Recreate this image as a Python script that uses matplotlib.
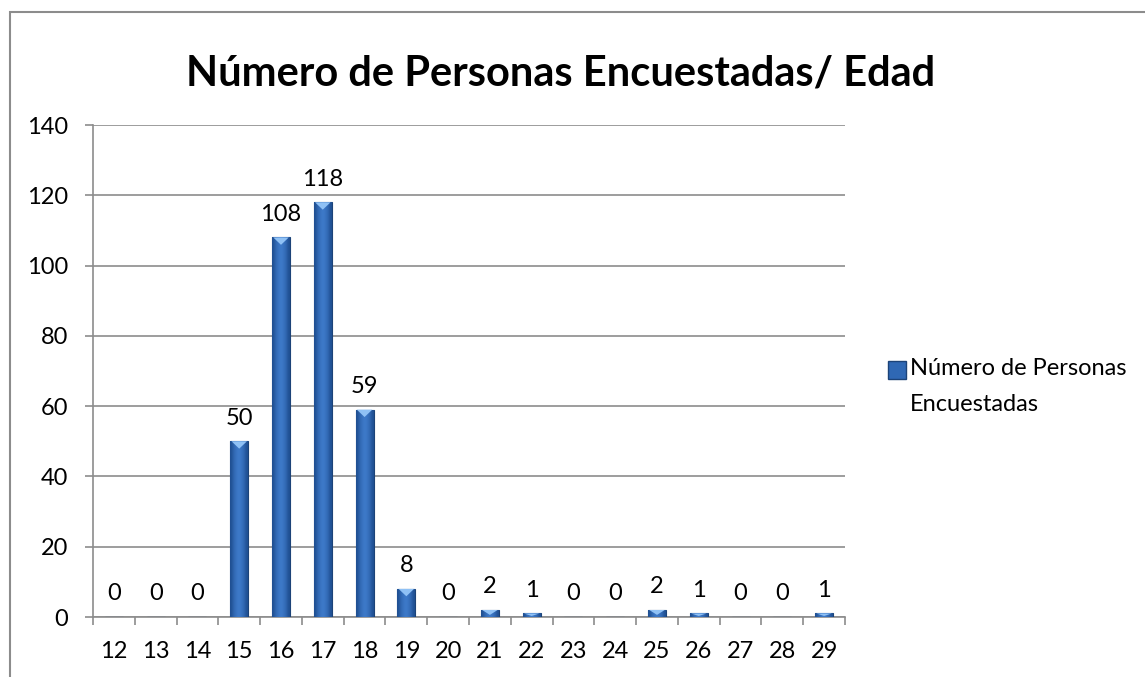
import matplotlib
matplotlib.use("Agg")
import matplotlib.pyplot as plt
import numpy as np
from matplotlib.patches import Rectangle
from matplotlib.lines import Line2D

plt.rcParams['font.family'] = ['Lato', 'DejaVu Sans']

categories = ['12', '13', '14', '15', '16', '17', '18', '19', '20', '21', '22',
              '23', '24', '25', '26', '27', '28', '29']
values = [0, 0, 0, 50, 108, 118, 59, 8, 0, 2, 1, 0, 0, 2, 1, 0, 0, 1]
y_ticks = [0, 20, 40, 60, 80, 100, 120, 140]
title = 'Número de Personas Encuestadas/ Edad'
series_name = 'Número de Personas\nEncuestadas'

fig = plt.figure(figsize=(11.45, 6.77), dpi=100)
W, H = 1145, 677
ax = fig.add_axes([93 / W, 1 - 617 / H, (845 - 93) / W, (617 - 125) / H])

# outer chart border
fig.patches.append(Rectangle((10 / W, -0.1), 1.2, 1 - 12 / H + 0.1, transform=fig.transFigure,
                             fill=False, edgecolor='#8c8c8c', linewidth=1.5))

x = np.arange(len(categories))
bars = ax.bar(x, values, width=0.43, color='#2f68b4', edgecolor='#1c4378', linewidth=0.8, zorder=3)

# gradient shading clipped to each bar
grad = np.array([[0.0, 0.55, 0.8, 1.0, 0.8, 0.55, 0.0]])
cmap = matplotlib.colors.LinearSegmentedColormap.from_list('g', ['#1f4f92', '#3f7ccc'])
for b in bars:
    if b.get_height() <= 0:
        continue
    x0, w, h = b.get_x(), b.get_width(), b.get_height()
    im = ax.imshow(grad, extent=[x0, x0 + w, 0, h], aspect='auto', cmap=cmap,
                   zorder=3.5, interpolation='bicubic')
    im.set_clip_path(b)
    tri_h = min(h, 3.0)
    ax.fill([x0 + 0.03, x0 + w - 0.03, x0 + w / 2], [h, h, h - tri_h * 0.7],
            color='#8fc1f5', zorder=4, linewidth=0)

for xi, v in zip(x, values):
    ax.annotate(str(v), (xi, v), xytext=(0, 9), textcoords='offset points', ha='center', va='bottom',
                fontsize=17, color='black')

ax.set_xlim(-0.5, len(categories) - 0.5)
ax.set_ylim(0, 140)
ax.set_yticks(y_ticks)
ax.set_yticklabels([str(t) for t in y_ticks], fontsize=17)
ax.set_xticks(x)
ax.set_xticklabels(categories, fontsize=17)
ax.set_xticks(np.arange(-0.5, len(categories)), minor=True)
ax.tick_params(axis='x', which='major', length=0, pad=17)
ax.tick_params(axis='x', which='minor', length=6, color='#8c8c8c', width=1.2, direction='out')
ax.tick_params(axis='y', length=6, color='#8c8c8c', width=1.2, pad=12)
ax.grid(axis='y', color='#8c8c8c', linewidth=1.2, zorder=0)
for s in ['top', 'right']:
    ax.spines[s].set_visible(False)
for s in ['left', 'bottom']:
    ax.spines[s].set_color('#8c8c8c')
    ax.spines[s].set_linewidth(1.2)

fig.text(561 / W, 1 - 73 / H, title, ha='center', va='center', fontsize=30, fontweight='bold')

# legend: marker beside the first line of the series name
fig.add_artist(Line2D([897 / W], [1 - 370 / H], transform=fig.transFigure, marker='s',
                      linestyle='none', markersize=13, markerfacecolor='#2f68b4',
                      markeredgecolor='#1c4378'))
fig.text(910 / W, 1 - 358 / H, series_name, ha='left', va='top', fontsize=17,
         linespacing=1.9, transform=fig.transFigure)

fig.savefig('out.png', dpi=100)
